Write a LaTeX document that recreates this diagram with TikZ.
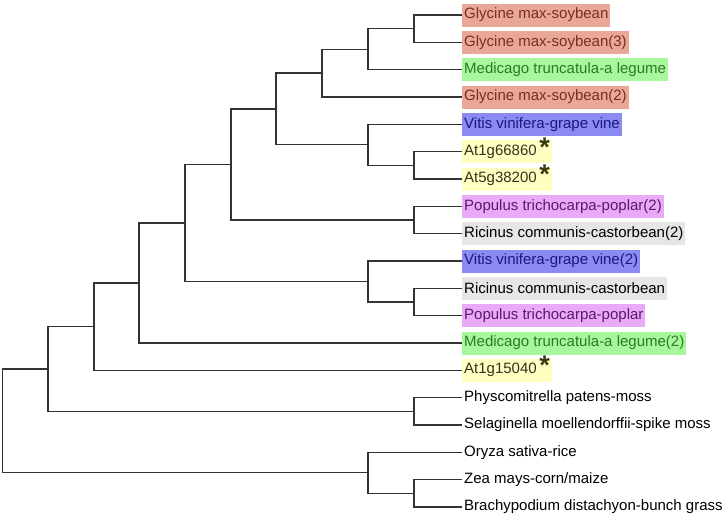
\documentclass[tikz,border=0pt]{standalone}
\usepackage{fontspec}
\setmainfont{Liberation Sans}
\definecolor{soyfill}{HTML}{E9A897}
\definecolor{soytext}{HTML}{7A2E1E}
\definecolor{legfill}{HTML}{A9F79C}
\definecolor{legtext}{HTML}{2C7A22}
\definecolor{vinefill}{HTML}{8A8AF2}
\definecolor{vinetext}{HTML}{18187E}
\definecolor{atfill}{HTML}{FFFFC2}
\definecolor{attext}{HTML}{333322}
\definecolor{starcol}{HTML}{3A3A12}
\definecolor{popfill}{HTML}{E9ABF8}
\definecolor{poptext}{HTML}{5A1A68}
\definecolor{ricfill}{HTML}{E6E6E6}
\newcommand{\atstar}{\,\raisebox{-1pt}[0pt][0pt]{\fontsize{27}{27}\selectfont\bfseries\color{starcol}*}}
\begin{document}
\begin{tikzpicture}[x=1pt,y=-1pt]
        \tikzstyle{leaf} = [rectangle, anchor=west, inner xsep=2pt, inner ysep=0pt, minimum height=23pt, text=black, font=\fontsize{15}{18}\selectfont]
        \tikzstyle{line} = [draw=black!80, line width=1.3]
        \useasboundingbox (0,0) rectangle (722,517);
        \node[leaf,fill=soyfill,text=soytext] (gm1) at (462,15) {Glycine max-soybean\hspace{5pt}};
        \node[leaf,fill=soyfill,text=soytext] (gm3) at (462,42.3) {Glycine max-soybean(3)};
        \node[leaf,fill=legfill,text=legtext] (mt1) at (462,69.7) {Medicago truncatula-a legume};
        \node[leaf,fill=soyfill,text=soytext] (gm2) at (462,97) {Glycine max-soybean(2)};
        \node[leaf,fill=vinefill,text=vinetext] (vv1) at (462,124.3) {Vitis vinifera-grape vine};
        \node[leaf,fill=atfill,text=attext] (at66) at (462,151.7) {At1g66860\atstar};
        \node[leaf,fill=atfill,text=attext] (at38) at (462,179) {At5g38200\atstar};
        \node[leaf,fill=popfill,text=poptext] (pt2) at (462,206.3) {Populus trichocarpa-poplar(2)};
        \node[leaf,fill=ricfill] (rc2) at (462,233.7) {Ricinus communis-castorbean(2)};
        \node[leaf,fill=vinefill,text=vinetext] (vv2) at (462,261) {Vitis vinifera-grape vine(2)};
        \node[leaf,fill=ricfill] (rc1) at (462,288.3) {Ricinus communis-castorbean};
        \node[leaf,fill=popfill,text=poptext] (pt1) at (462,315.7) {Populus trichocarpa-poplar};
        \node[leaf,fill=legfill,text=legtext] (mt2) at (462,343) {Medicago truncatula-a legume(2)};
        \node[leaf,fill=atfill,text=attext] (at15) at (462,370.3) {At1g15040\atstar};
        \node[leaf] (moss) at (462,397.7) {Physcomitrella patens-moss};
        \node[leaf] (spike) at (462,425) {Selaginella moellendorffii-spike moss};
        \node[leaf] (rice) at (462,452.3) {Oryza sativa-rice};
        \node[leaf] (maize) at (462,479.7) {Zea mays-corn/maize};
        \node[leaf] (brachy) at (462,507) {Brachypodium distachyon-bunch grass};
        % internal nodes
        \coordinate (a1) at (414,28.7);
        \coordinate (a2) at (368,49.2);
        \coordinate (a3) at (322,73.1);
        \coordinate (b1) at (414,165.3);
        \coordinate (b2) at (368,144.8);
        \coordinate (a4) at (276,109);
        \coordinate (c1) at (414,220);
        \coordinate (a5) at (231,164.5);
        \coordinate (d1) at (414,302);
        \coordinate (d2) at (368,281.5);
        \coordinate (a6) at (185,223);
        \coordinate (a7) at (139,283);
        \coordinate (a8) at (94,326.7);
        \coordinate (e1) at (414,411.3);
        \coordinate (a9) at (48,369);
        \coordinate (f1) at (414,493.3);
        \coordinate (f2) at (368,472.8);
        \coordinate (root) at (2.3,420.9);
        \draw[line] (gm1.west) -| (a1) |- (gm3.west);
        \draw[line] (a1) -| (a2) |- (mt1.west);
        \draw[line] (a2) -| (a3) |- (gm2.west);
        \draw[line] (at66.west) -| (b1) |- (at38.west);
        \draw[line] (vv1.west) -| (b2) |- (b1);
        \draw[line] (a3) -| (a4) |- (b2);
        \draw[line] (pt2.west) -| (c1) |- (rc2.west);
        \draw[line] (a4) -| (a5) |- (c1);
        \draw[line] (rc1.west) -| (d1) |- (pt1.west);
        \draw[line] (vv2.west) -| (d2) |- (d1);
        \draw[line] (a5) -| (a6) |- (d2);
        \draw[line] (a6) -| (a7) |- (mt2.west);
        \draw[line] (a7) -| (a8) |- (at15.west);
        \draw[line] (moss.west) -| (e1) |- (spike.west);
        \draw[line] (a8) -| (a9) |- (e1);
        \draw[line] (maize.west) -| (f1) |- (brachy.west);
        \draw[line] (rice.west) -| (f2) |- (f1);
        \draw[line] (a9) -| (root) |- (f2);
\end{tikzpicture}
\end{document}
